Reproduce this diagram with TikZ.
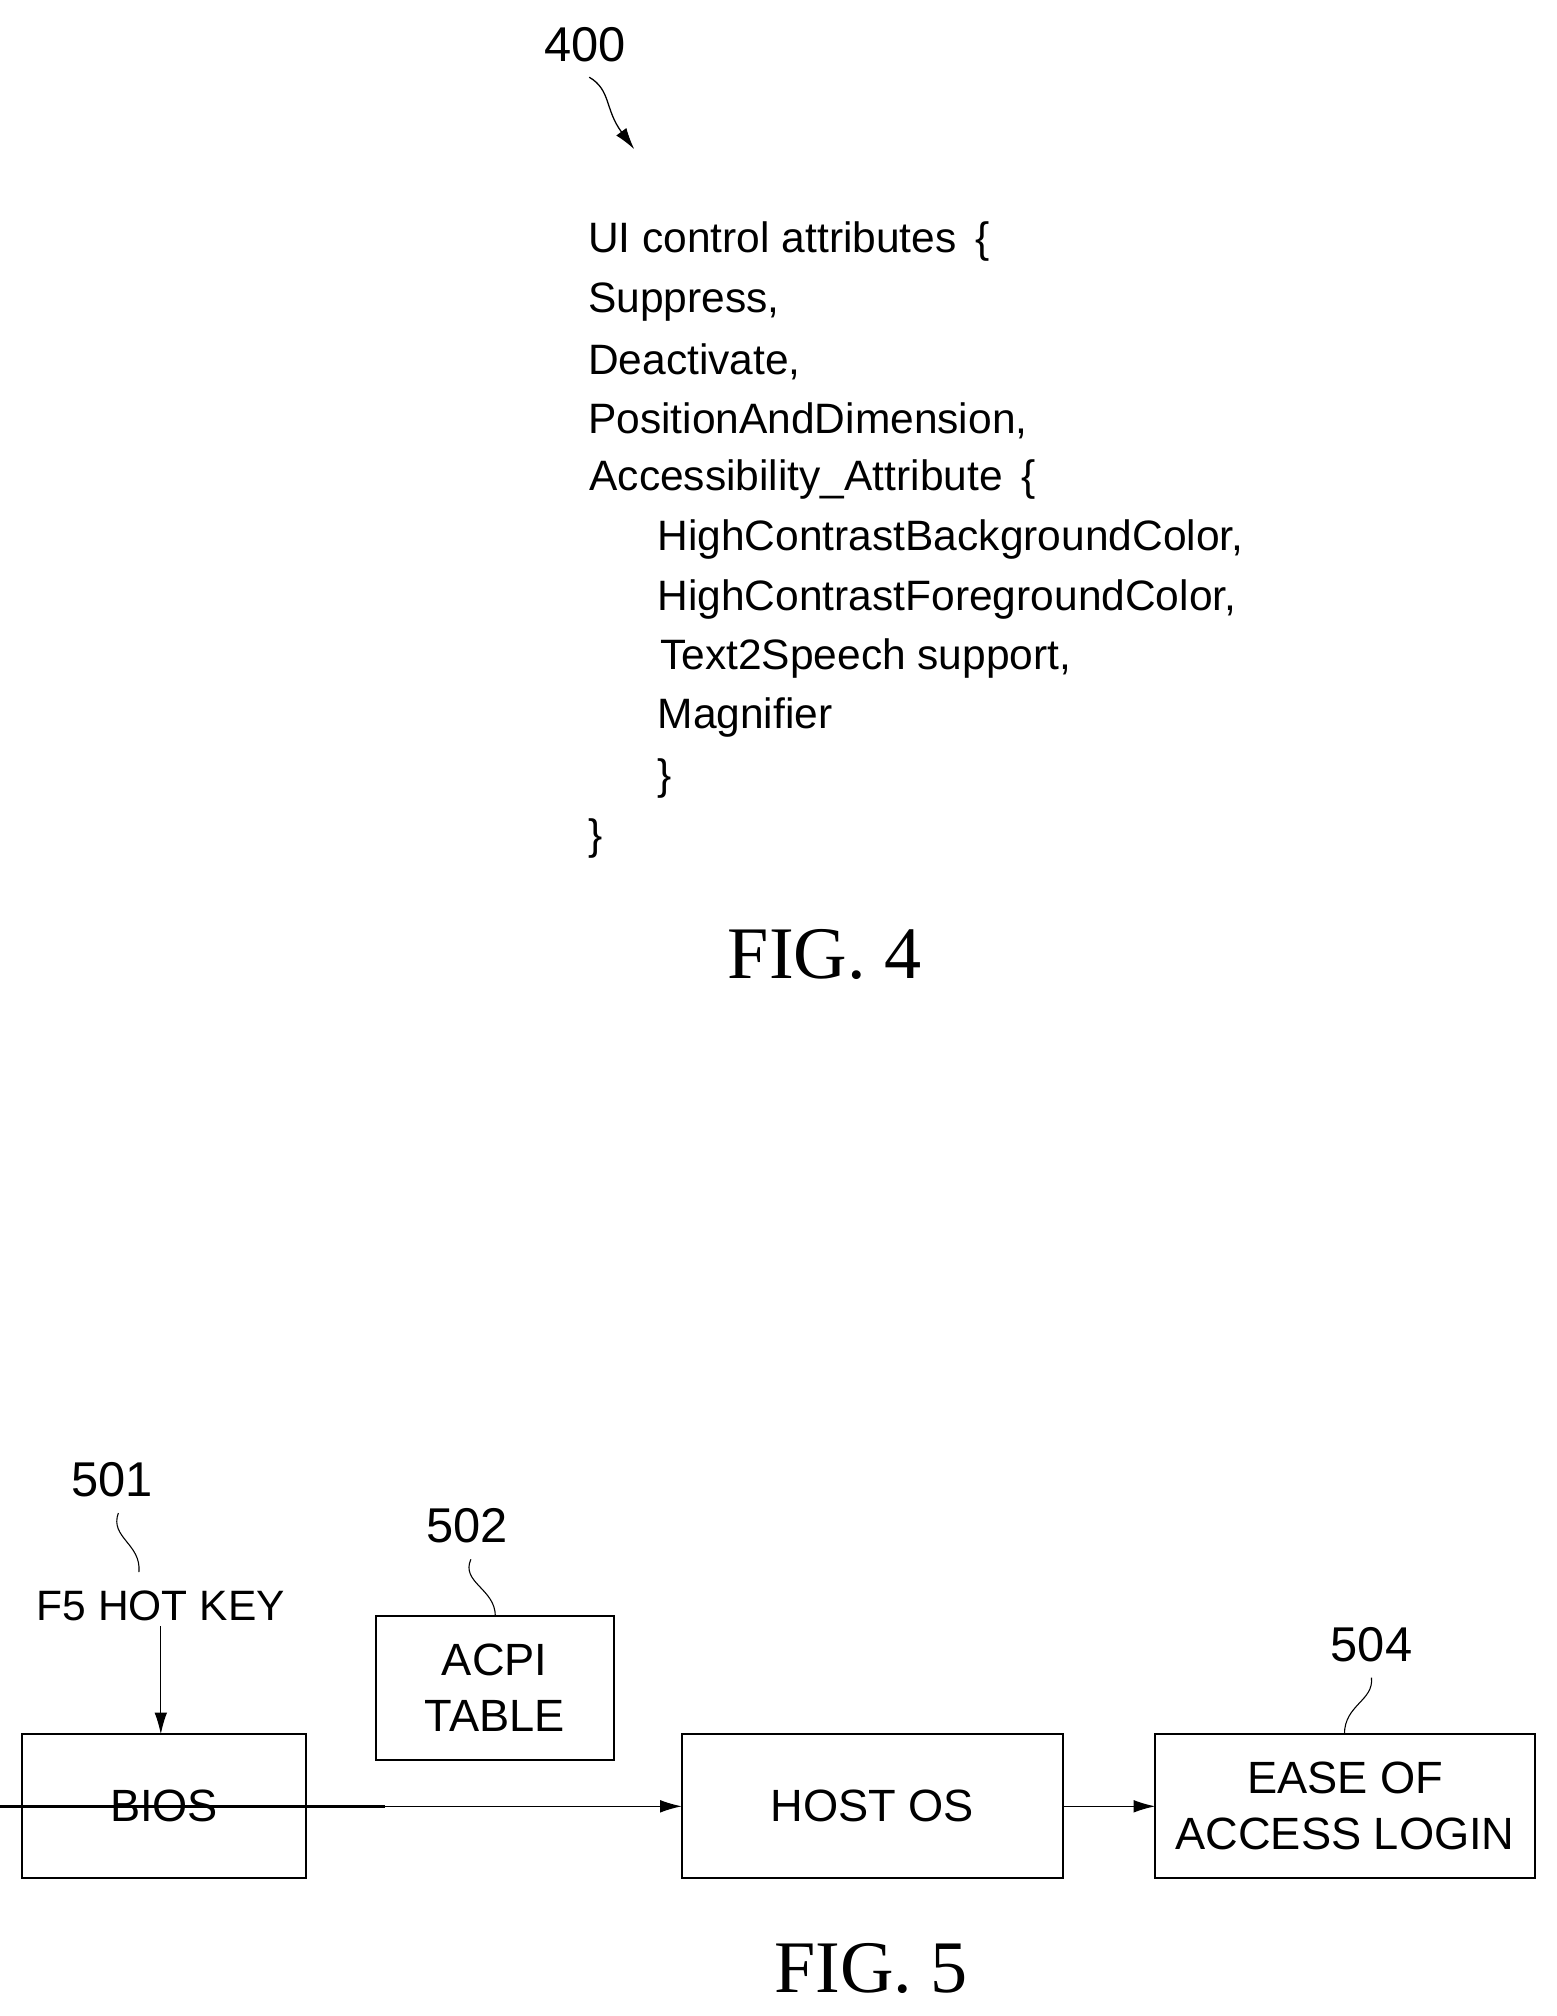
\documentclass[tikz,border=0pt]{standalone}
\usepackage{fontspec}
\setmainfont{Liberation Sans}
\newfontfamily\figfont{Liberation Serif}
\usetikzlibrary{arrows.meta}
\begin{document}
\begin{tikzpicture}[x=0.05cm,y=-0.05cm,
  txt/.style={font=\fontsize{47}{60}\selectfont, anchor=west, inner sep=0},
  num/.style={font=\fontsize{54}{60}\selectfont, inner sep=0},
  box/.style={draw, line width=2.2pt, font=\fontsize{50}{62}\selectfont, align=center, inner sep=0},
  arr/.style={line width=1.4pt, -{Latex[length=24pt,width=14pt]}},
  lead/.style={line width=1.2pt},
  figl/.style={font=\figfont\fontsize{82}{90}\selectfont, inner sep=0}]
\useasboundingbox (0,0) rectangle (1210,1567);
% FIG 4
\node[num] (n400) at (455,35) {400};
\coordinate (a400) at (493,116);
\draw[arr] (458,60) .. controls (475,70) and (470,85) .. (a400);
\node[txt] (l1) at (457,188) {UI control attributes \,\{};
\node[txt] (l2) at (457,235) {Suppress,};
\node[txt] (l3) at (457,281) {Deactivate,};
\node[txt] (l4) at (457,327) {PositionAndDimension,};
\node[txt] (l5) at (458,373) {Accessibility\_Attribute \,\{};
\node[txt] (l6) at (511,419) {HighContrastBackgroundColor,};
\node[txt] (l7) at (511,466) {HighContrastForegroundColor,};
\node[txt] (l8) at (513,512) {Text2Speech support,};
\node[txt] (l9) at (511,558) {Magnifier};
\node[txt] (l10) at (511,605) {\}};
\node[txt] (l11) at (457,652) {\}};
\node[figl] (f4) at (641,742) {FIG. 4};
% FIG 5
\node[box, minimum width=221\pgflinewidth] (bios) at (127.5,1404) {};
\draw[line width=2.2pt] (17,1348) rectangle (238,1460);
\node[font=\fontsize{50}{62}\selectfont] (biost) at (127.5,1404) {BIOS};
\draw[line width=2.2pt] (292,1256) rectangle (477,1368);
\node[font=\fontsize{50}{62}\selectfont, align=center] (acpi) at (384.5,1312) {ACPI\\TABLE};
\draw[line width=2.2pt] (530,1348) rectangle (826,1460);
\node[font=\fontsize{50}{62}\selectfont] (host) at (678,1404) {HOST OS};
\draw[line width=2.2pt] (898,1348) rectangle (1193,1460);
\node[font=\fontsize{50}{62}\selectfont, align=center] (ease) at (1045.5,1404) {EASE OF\\ACCESS LOGIN};
\coordinate (biosR) at (238,1404);
\coordinate (hostL) at (530,1404);
\coordinate (hostR) at (826,1404);
\coordinate (easeL) at (898,1404);
\draw[arr] (biosR) -- (hostL);
\draw[arr] (hostR) -- (easeL);
\node[num] (n501) at (87,1150) {501};
\draw[lead] (92,1176) .. controls (85,1195) and (110,1200) .. (108,1222);
\node[font=\fontsize{47}{60}\selectfont, inner sep=0] (f5) at (125,1248) {F5 HOT KEY};
\coordinate (biosT) at (125,1348);
\draw[arr] (125,1264) -- (biosT);
\node[num] (n502) at (363,1186) {502};
\draw[lead] (366,1212) .. controls (358,1230) and (385,1235) .. (385,1256);
\node[num] (n504) at (1066,1278) {504};
\draw[lead] (1066,1304) .. controls (1068,1322) and (1045,1325) .. (1045,1348);
\node[figl] (f5l) at (677,1530) {FIG. 5};
\end{tikzpicture}
\end{document}
